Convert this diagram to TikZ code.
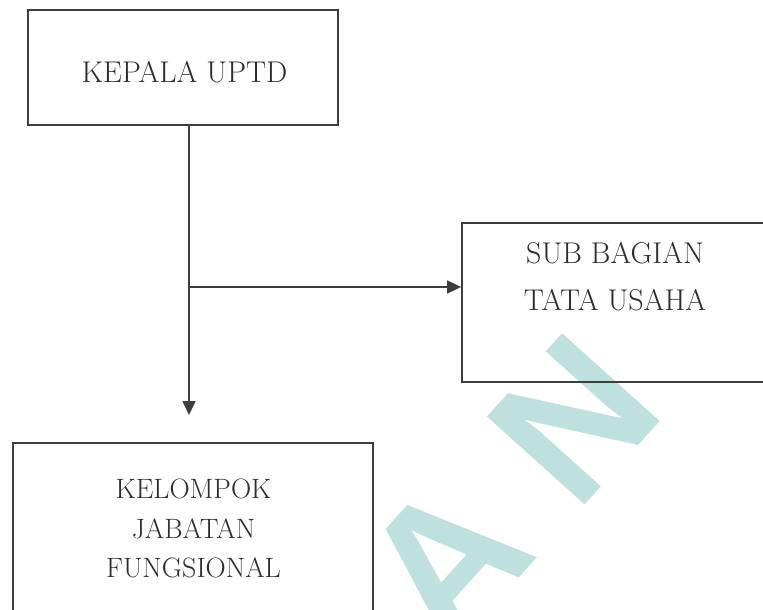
\documentclass[tikz,border=0pt]{standalone}
\usepackage{fontspec}
\newfontfamily\wmfont{Liberation Sans}
\usetikzlibrary{arrows.meta}
\definecolor{ink}{RGB}{62,62,62}
\definecolor{txt}{RGB}{45,45,45}
\definecolor{wm}{RGB}{190,224,223}
\begin{document}
\begin{tikzpicture}[x=1pt,y=-1pt,
  box/.style={draw=ink, line width=1.8pt, inner sep=0pt},
  lbl/.style={text=txt, inner sep=0pt, align=center},
  conn/.style={draw=ink, line width=1.6pt, -{Triangle[length=14pt,width=13pt]}}]
\useasboundingbox (0,0) rectangle (763,610);
\clip (0,0) rectangle (763,610);
\fill[white] (0,0) rectangle (763,610);
% watermark
\node[text=wm, font=\wmfont\bfseries\fontsize{191}{191}\selectfont, rotate=48, inner sep=0pt] (wmark) at (510,490) {A N};
% boxes
\node[box, minimum width=310pt, minimum height=115pt] (kepala) at (183,67.5) {};
\node[box, minimum width=310pt, minimum height=159pt] (sub) at (617,302.5) {};
\node[box, minimum width=360pt, minimum height=200pt] (kjf) at (193,543) {};
% labels
\node[lbl, font=\fontsize{30}{36}\selectfont, anchor=base] (tkepala) at (184.5,82) {KEPALA UPTD};
\node[lbl, font=\fontsize{30}{47}\selectfont, anchor=north] (tsub) at (615,242.5) {SUB BAGIAN\\TATA USAHA};
\node[lbl, font=\fontsize{28}{39.5}\selectfont, anchor=north] (tkjf) at (193.5,479) {KELOMPOK\\JABATAN\\FUNGSIONAL};
% connectors
\coordinate (tip) at (189,415);
\coordinate (junc) at (189,287);
\draw[conn] (kepala.south -| tip) -- (tip);
\draw[conn] (junc) -- (junc -| sub.west);
\end{tikzpicture}
\end{document}
